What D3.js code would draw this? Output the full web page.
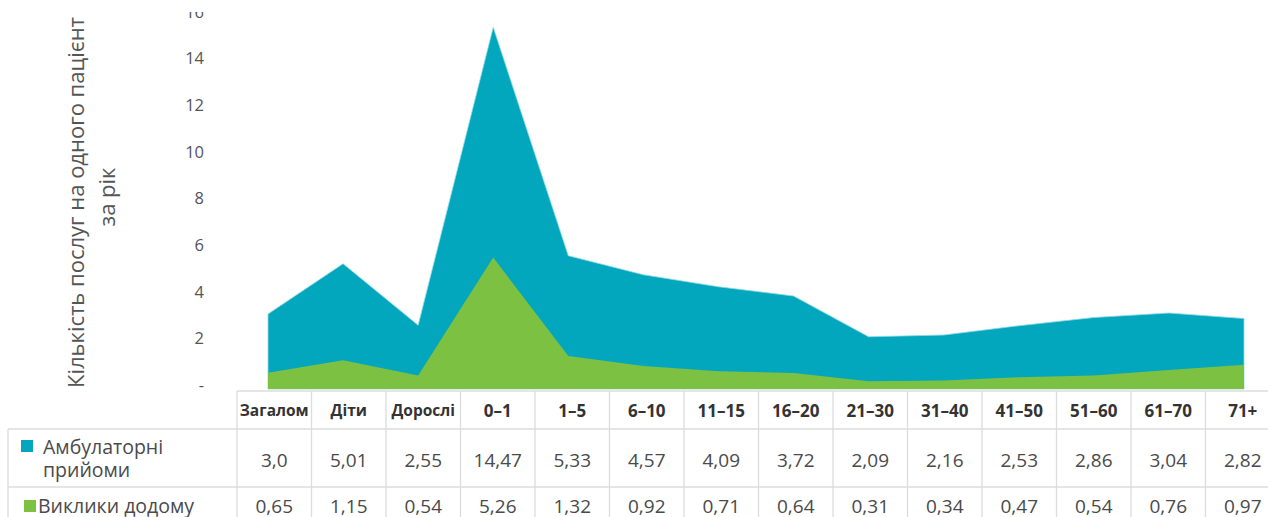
<!DOCTYPE html>
<html lang="uk">
<head>
<meta charset="utf-8">
<title>Кількість послуг на одного пацієнта за рік</title>
<script src="https://d3js.org/d3.v7.min.js"></script>
<style>
    body { margin: 0; background: #fff; }
    svg { display: block; font-family: "Open Sans", "Noto Sans", sans-serif; }
</style>
</head>
<body>
<div id="chart"></div>

<script>
    // categories (age groups) and values per patient per year
    var categories = ["Загалом", "Діти", "Дорослі", "0–1", "1–5", "6–10", "11–15", "16–20",
                      "21–30", "31–40", "41–50", "51–60", "61–70", "71+"];
    var ambulatory = [3.0, 5.01, 2.55, 14.47, 5.33, 4.57, 4.09, 3.72, 2.09, 2.16, 2.53, 2.86, 3.04, 2.82];
    var homeVisits = [0.65, 1.15, 0.54, 5.26, 1.32, 0.92, 0.71, 0.64, 0.31, 0.34, 0.47, 0.54, 0.76, 0.97];
    // printed table labels
    var ambulatoryText = ["3,0", "5,01", "2,55", "14,47", "5,33", "4,57", "4,09", "3,72", "2,09", "2,16", "2,53", "2,86", "3,04", "2,82"];
    var homeVisitsText = ["0,65", "1,15", "0,54", "5,26", "1,32", "0,92", "0,71", "0,64", "0,31", "0,34", "0,47", "0,54", "0,76", "0,97"];
    var seriesNames = [["Амбулаторні", "прийоми"], ["Виклики додому"]];
    var yTicks = [0, 2, 4, 6, 8, 10, 12, 14, 16];

    var teal = "#02a7bd", green = "#7dc142", grid = "#dcdcdc", ink = "#4a4a4a";

    var width = 1268, height = 517;

    var svg = d3.select("#chart")
      .append("svg")
        .attr("width", width)
        .attr("height", height);

    // x for the areas
    var x = d3.scalePoint()
      .domain(categories)
      .range([268, 1244]);

    // y for the areas
    var y = d3.scaleLinear()
      .domain([0, 16])
      .range([389, -11]);

    // y for the axis labels (printed a bit off from the areas in the original)
    var yAxisScale = d3.scaleLinear()
      .domain([0, 16])
      .range([385, 12]);

    // table columns
    var col = d3.scaleBand()
      .domain(categories)
      .range([237, 237 + 74.5 * categories.length]);

    var rows = categories.map(function(c, i) {
        return { cat: c, amb: ambulatory[i], home: homeVisits[i] };
    });

    // areas
    svg.append("path")
      .datum(rows)
      .attr("fill", teal)
      .attr("stroke", "#8fdbe6")
      .attr("stroke-width", 0.8)
      .attr("d", d3.area()
        .x(function(d) { return x(d.cat); })
        .y0(y(0))
        .y1(function(d) { return y(d.amb); }));

    svg.append("path")
      .datum(rows)
      .attr("fill", green)
      .attr("d", d3.area()
        .x(function(d) { return x(d.cat); })
        .y0(y(0))
        .y1(function(d) { return y(d.home); }));

    // y axis labels only (top label is cut off in the original)
    svg.append("clipPath")
        .attr("id", "axisClip")
      .append("rect")
        .attr("x", -100).attr("y", 12)
        .attr("width", 200).attr("height", 400);

    var axisG = svg.append("g")
      .attr("transform", "translate(204,0)")
      .attr("clip-path", "url(#axisClip)")
      .call(d3.axisLeft(yAxisScale)
        .tickValues(yTicks)
        .tickSize(0)
        .tickPadding(0)
        .tickFormat(function(d) { return d === 0 ? "-" : d; }));
    axisG.select(".domain").remove();
    axisG.selectAll("text")
      .style("font-size", "16.5px")
      .style("font-family", "'Open Sans', sans-serif")
      .attr("fill", "#555");

    // axis title
    svg.append("text")
      .attr("transform", "translate(84,388) rotate(-90)")
      .attr("text-anchor", "start")
      .style("font-size", "22px")
      .attr("fill", "#555")
      .text("Кількість послуг на одного пацієнт");
    svg.append("text")
      .attr("transform", "translate(115,197) rotate(-90)")
      .attr("text-anchor", "middle")
      .style("font-size", "22px")
      .attr("fill", "#555")
      .text("за рік");

    // table
    var rowTop = [391, 429, 487];
    var table = svg.append("g");

    // horizontal lines
    table.append("line")
      .attr("x1", col.range()[0]).attr("x2", width)
      .attr("y1", rowTop[0]).attr("y2", rowTop[0]);
    [1, 2].forEach(function(r) {
        table.append("line")
          .attr("x1", 8).attr("x2", width)
          .attr("y1", rowTop[r]).attr("y2", rowTop[r]);
    });
    // vertical lines
    table.append("line")
      .attr("x1", 8).attr("x2", 8)
      .attr("y1", rowTop[1]).attr("y2", height);
    table.selectAll(".vline")
      .data(categories)
      .enter()
      .append("line")
        .attr("x1", function(d) { return col(d); })
        .attr("x2", function(d) { return col(d); })
        .attr("y1", rowTop[0]).attr("y2", height);
    table.selectAll("line")
      .attr("stroke", grid)
      .attr("stroke-width", 1.3);

    // header
    table.selectAll(".head")
      .data(categories)
      .enter()
      .append("text")
        .attr("x", function(d) { return col(d) + col.bandwidth() / 2; })
        .attr("y", 411)
        .attr("dy", "0.35em")
        .attr("text-anchor", "middle")
        .style("font-size", function(d, i) { return i < 3 ? "15.5px" : "17px"; })
        .style("font-weight", "bold")
        .attr("fill", "#333")
        .text(function(d) { return d; });

    // values
    table.selectAll(".amb")
      .data(ambulatoryText)
      .enter()
      .append("text")
        .attr("x", function(d, i) { return col(categories[i]) + col.bandwidth() / 2; })
        .attr("y", 460)
        .attr("dy", "0.35em")
        .attr("text-anchor", "middle")
        .style("font-size", "19px")
        .attr("fill", ink)
        .text(function(d) { return d; });

    table.selectAll(".home")
      .data(homeVisitsText)
      .enter()
      .append("text")
        .attr("x", function(d, i) { return col(categories[i]) + col.bandwidth() / 2; })
        .attr("y", 506)
        .attr("dy", "0.35em")
        .attr("text-anchor", "middle")
        .style("font-size", "19px")
        .attr("fill", ink)
        .text(function(d) { return d; });

    // row labels with legend squares
    table.append("rect")
      .attr("x", 21).attr("y", 440).attr("width", 12).attr("height", 12)
      .attr("fill", teal);
    table.append("text")
      .attr("x", 43).attr("y", 447).attr("dy", "0.35em")
      .style("font-size", "19.5px").attr("fill", ink)
      .text(seriesNames[0][0]);
    table.append("text")
      .attr("x", 43).attr("y", 470).attr("dy", "0.35em")
      .style("font-size", "19.5px").attr("fill", ink)
      .text(seriesNames[0][1]);
    table.append("rect")
      .attr("x", 24).attr("y", 500).attr("width", 12).attr("height", 12)
      .attr("fill", green);
    table.append("text")
      .attr("x", 38).attr("y", 506).attr("dy", "0.35em")
      .style("font-size", "19.5px").attr("fill", ink)
      .text(seriesNames[1][0]);
</script>
</body>
</html>
